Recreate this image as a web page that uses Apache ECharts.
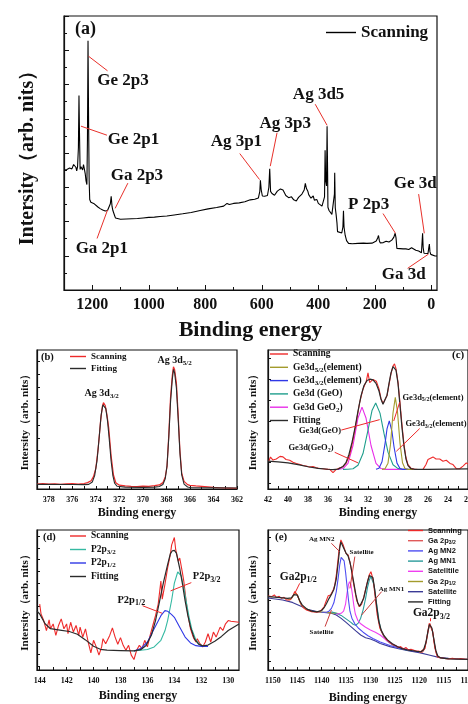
<!DOCTYPE html>
<html>
<head>
<meta charset="utf-8">
<script src="https://cdn.jsdelivr.net/npm/echarts@6/dist/echarts.min.js"></script>
<style>
  html, body { margin: 0; padding: 0; background: #fff; }
  #chart { width: 468px; height: 704px; }
</style>
</head>
<body>
<div id="chart"></div>
<script>
// ---- (a) survey spectrum ----
const surveyScan = [
  [1300,43.7],[1290,44.0],[1280,44.5],[1272,44.2],[1266,45.8],[1262,46.2],[1258,44.8],[1255,43.5],[1252,45.0],
  [1249,52.0],[1247,71.0],[1245,56.0],[1243,44.0],[1240,45.0],[1237,45.5],[1234,43.8],[1231,45.8],[1228,44.2],
  [1225,42.5],[1222,39.8],[1219,38.5],[1217,55.0],[1215,91.0],[1213,62.0],[1211,40.0],[1209,33.0],[1205,32.0],
  [1200,31.9],[1195,31.6],[1188,31.2],[1180,30.3],[1172,29.7],[1163,29.2],[1154,28.8],[1146,29.0],[1140,29.5],
  [1136,31.5],[1133,34.2],[1130,30.5],[1127,29.0],[1124,28.5],[1121,27.2],[1118,26.3],[1113,25.9],[1100,25.8],
  [1080,25.9],[1060,26.0],[1040,26.1],[1020,26.3],[1000,26.5],[980,26.6],[960,26.8],[936,27.0],[910,27.4],
  [880,27.8],[850,28.3],[818,29.0],[790,29.6],[760,30.1],[735,30.6],[723,31.6],[715,31.2],[700,31.6],[680,31.8],
  [660,32.2],[641,32.9],[625,33.1],[612,33.6],[607,36.0],[605,40.0],[602,36.5],[598,34.3],[594,35.0],[590,34.2],
  [580,34.5],[575,37.5],[572,44.2],[569,36.0],[564,35.2],[555,34.6],[545,36.1],[534,36.9],[525,36.5],[515,34.5],
  [505,33.7],[495,34.0],[487,32.9],[478,32.5],[470,33.8],[464,34.4],[458,35.0],[450,36.5],[446,38.9],[442,37.0],
  [437,36.0],[434,34.8],[430,35.5],[426,33.5],[422,33.1],[418,34.3],[414,32.8],[410,32.3],[405,33.0],[400,31.6],
  [393,31.1],[387,30.6],[381,31.0],[378,34.0],[376,51.0],[374,40.0],[371,38.0],[369,59.8],[367,42.0],[366,30.2],
  [362,29.0],[358,28.4],[352,27.6],[346,27.8],[343,35.0],[342,42.8],[340,30.0],[337,27.5],[334,24.5],[332,21.3],
  [325,20.8],[317,20.8],[313,23.0],[311,28.9],[309,23.0],[305,20.0],[300,18.0],[293,17.0],[280,16.9],[260,17.0],
  [240,17.1],[228,17.0],[210,17.1],[195,17.9],[190,19.0],[187,19.9],[184,18.0],[181,17.2],[170,17.3],[160,17.8],
  [150,17.5],[140,18.2],[133,19.2],[130,18.6],[128,20.7],[125,19.0],[122,15.2],[115,15.1],[100,15.0],[90,15.0],
  [80,14.8],[70,15.4],[63,15.1],[55,14.5],[45,14.2],[40,13.9],[35,13.6],[33,14.0],[31,20.7],[29,15.5],[26,13.4],
  [20,13.3],[12,13.3],[9,15.5],[7,16.8],[5,14.0],[2,13.0],[-1,12.8],[-5,12.5],[-13,12.4],[-20,12.4]
];
// text, text x, text y, line x1, y1, x2, y2
const surveyNotes = [
  ['Ge 2p3', 1091, 76.5, 1213, 85.3, 1146, 80.0],
  ['Ge 2p1', 1054, 55.0, 1240, 59.8, 1148, 56.5],
  ['Ga 2p3', 1042, 41.7, 1074, 39.0, 1119, 29.8],
  ['Ga 2p1', 1166, 15.2, 1183, 18.8, 1146, 29.2],
  ['Ag 3p1', 690, 54.0, 678, 49.8, 608, 40.3],
  ['Ag 3p3', 517, 60.8, 546, 57.4, 570, 45.2],
  ['Ag 3d5', 399, 71.3, 411, 67.8, 369, 60.1],
  ['P 2p3', 222, 31.3, 171, 27.9, 127, 20.7],
  ['Ge 3d', 57, 38.9, 45, 35.0, 25, 20.7],
  ['Ga 3d', 98, 5.5, 84, 7.9, 10, 13.1]
];
const surveyLabels = [0, 200, 400, 600, 800, 1000, 1200];
const surveyMinor = [100, 300, 500, 700, 900, 1100];

// ---- (b) Ag 3d ----
const agScan = [
  [379,3.9],[378.5,4.2],[378,3.8],[377.5,4.1],[377,3.7],[376.5,4.0],[376,4.2],[375.5,3.9],[375,4.3],[374.7,5.0],
  [374.4,6.5],[374.2,9.7],[374,16.2],[373.8,31.9],[373.6,52.8],[373.45,64.5],[373.35,67.7],[373.2,65.5],
  [373.05,58.0],[372.9,47.6],[372.7,26.0],[372.5,11.0],[372.3,4.9],[372,3.0],[371.5,2.4],[371,2.0],[370.5,1.9],
  [370,2.2],[369.5,2.0],[369,2.6],[368.6,3.2],[368.3,5.0],[368.1,9.5],[367.95,17.5],[367.8,42.3],[367.65,72.0],
  [367.5,89.0],[367.4,95.9],[367.3,93.5],[367.15,83.0],[367,58.0],[366.85,30.0],[366.7,12.5],[366.5,6.0],
  [366.2,3.4],[366,2.9],[365.5,2.4],[365,2.0],[364.5,1.6],[364,1.2],[363.5,1.0],[363,0.8],[362.5,0.7],[362,0.6]
];
const agFit = [
  [379,3.6],[376,3.5],[375,3.4],[374.6,3.6],[374.3,5.5],[374.1,10.5],[373.9,22.0],[373.7,42.0],[373.55,58.0],
  [373.4,66.0],[373.3,67.0],[373.15,63.0],[373,53.0],[372.85,38.0],[372.7,22.0],[372.55,10.5],[372.4,4.5],
  [372.2,2.2],[371.5,1.5],[370,1.3],[369,1.5],[368.6,2.0],[368.3,3.5],[368.1,8.0],[367.95,18.0],[367.8,40.0],
  [367.65,68.0],[367.5,86.0],[367.4,93.8],[367.3,91.0],[367.15,79.0],[367,55.0],[366.85,28.0],[366.7,11.0],
  [366.5,3.8],[366.2,1.6],[366,1.2],[364,1.0],[362,0.8]
];
const agNotes = [['Ag 3d{s|3/2}', 373.5, 75], ['Ag 3d{s|5/2}', 367.3, 101]];
const agLabels = [362, 364, 366, 368, 370, 372, 374, 376, 378];
const agTicks = [362,363,364,365,366,367,368,369,370,371,372,373,374,375,376,377,378,379];
const agYTicks = [10, 20, 30, 40, 50, 60, 70, 80, 90, 100];

// ---- (c) Ge 3d ----
const geScan = [
  [41.93,20.0],[41.75,23.0],[41.5,20.8],[41.17,21.6],[40.8,23.5],[40.5,23.1],[40.2,21.2],[39.83,20.7],[39.5,19.3],
  [39.17,18.4],[38.8,17.6],[38.5,16.9],[38.2,16.5],[37.83,15.8],[37.5,16.2],[37.17,15.3],[36.8,14.8],[36.5,14.6],
  [36.1,14.1],[35.83,14.1],[35.5,11.8],[35.17,14.1],[34.8,15.3],[34.5,16.0],[34.17,18.8],[33.83,24.7],[33.5,35.3],
  [33.17,48.2],[32.83,62.4],[32.5,71.8],[32.17,77.6],[32.0,83.5],[31.83,76.5],[31.5,78.8],[31.17,77.6],[30.9,72.0],
  [30.7,65.0],[30.5,61.5],[30.3,62.5],[30.1,67.0],[29.9,75.0],[29.7,83.0],[29.5,88.5],[29.35,90.0],[29.2,86.5],
  [29.0,77.0],[28.8,62.0],[28.6,46.0],[28.4,32.0],[28.2,22.5],[28.0,17.5],[27.7,15.0],[27.4,14.3],[27.0,14.0],
  [26.8,13.6],[26.5,14.1],[26.2,17.6],[26.0,21.2],[25.8,20.0],[25.5,23.1],[25.2,21.6],[24.83,21.6],[24.5,20.0],
  [24.17,20.7],[23.8,18.4],[23.5,17.6],[23.17,14.6],[22.83,14.6],[22.5,16.5],[22.17,18.8],[22.0,18.0]
];
const geFit = [
  [42,20.0],[41,19.5],[40,18.8],[39,17.5],[38,16.0],[37,14.9],[36,14.2],[35.5,14.0],[35,14.3],[34.5,16.2],
  [34.2,19.0],[33.9,25.0],[33.6,33.5],[33.3,44.0],[33.0,56.0],[32.7,67.0],[32.4,74.5],[32.1,78.0],[31.8,79.0],
  [31.5,78.5],[31.2,76.0],[30.9,70.5],[30.7,64.5],[30.5,61.0],[30.3,62.0],[30.1,67.5],[29.9,76.0],[29.7,83.5],
  [29.5,88.0],[29.35,89.0],[29.2,85.5],[29.0,76.0],[28.8,60.0],[28.6,44.0],[28.4,30.5],[28.2,21.5],[28.0,16.8],
  [27.7,14.6],[27.3,14.1],[26,14.1],[24,14.3],[22,14.5]
];
const geElem52 = [
  [30.6,14.1],[30.3,14.5],[30.0,18.6],[29.75,32.1],[29.5,54.7],[29.27,65.9],[29.05,55.6],[28.8,32.9],
  [28.55,18.9],[28.3,14.8],[28.0,14.1],[27.5,14.1]
];
const geElem32 = [
  [31.2,14.2],[30.9,15.0],[30.6,19.6],[30.3,32.5],[30.1,43.2],[29.87,49.0],[29.6,41.2],[29.4,30.4],[29.1,18.6],
  [28.8,14.8],[28.5,14.1],[27.8,14.1]
];
const geGeO = [
  [34.5,14.1],[34.0,14.2],[33.5,14.6],[33.0,17.1],[32.5,25.5],[32.0,42.3],[31.6,56.4],[31.23,61.9],[30.8,54.6],
  [30.4,40.0],[30.0,26.5],[29.5,17.4],[29.0,14.7],[28.5,14.2],[28.0,14.1]
];
const geGeO2 = [
  [35.0,14.1],[34.5,14.7],[34.0,18.5],[33.5,31.3],[33.0,51.1],[32.6,58.9],[32.2,51.1],[31.7,31.3],[31.2,18.5],
  [30.7,14.7],[30.2,14.1],[29.0,14.1],[28.0,14.1]
];
const geNotes = [
  ['Ge3d{s|5/2}(element)', 25.5, 65.9, 28.83, 62.4, 29.43, 48.9],
  ['Ge3d{s|3/2}(element)', 25.2, 46.6, 26.83, 43.5, 29.17, 27.1],
  ['Ge3d(GeO)', 36.8, 41.6, 34.67, 42.4, 30.83, 49.9],
  ['Ge3d(GeO{s|2})', 37.7, 29.4, 35.33, 26.4, 33.0, 18.8]
];
const geLabels = [22, 24, 26, 28, 30, 32, 34, 36, 38, 40, 42];
const geTicks = [22,23,24,25,26,27,28,29,30,31,32,33,34,35,36,37,38,39,40,41,42];
const geYTicks = [4.2, 19.3, 34.1, 48.9, 64.2, 79.3, 94.1];

// ---- (d) P 2p ----
const pScan = [
  [144.0,47.1],[143.9,40.0],[143.7,35.3],[143.5,28.2],[143.3,35.8],[143.2,29.4],[143.0,32.9],[142.8,24.7],
  [142.6,31.8],[142.4,36.5],[142.2,29.4],[142.0,32.9],[141.9,25.9],[141.7,34.1],[141.5,27.1],[141.3,31.8],
  [141.1,24.7],[141.0,30.6],[140.8,23.5],[140.6,29.4],[140.4,20.0],[140.2,12.2],[140.0,21.2],[139.8,16.5],
  [139.6,10.6],[139.4,16.5],[139.3,22.4],[139.1,18.8],[138.8,24.7],[138.6,30.1],[138.4,23.5],[138.2,18.4],
  [138.0,23.1],[137.8,17.6],[137.6,14.1],[137.4,17.6],[137.2,10.6],[137.0,7.5],[136.8,14.1],[136.6,17.6],
  [136.4,15.3],[136.2,21.2],[136.0,16.5],[135.8,24.7],[135.6,31.8],[135.4,38.8],[135.2,47.1],[135.0,63.5],
  [134.9,50.6],[134.7,61.2],[134.6,67.1],[134.5,72.9],[134.3,82.4],[134.2,89.4],[134.0,94.6],[133.9,85.9],
  [133.7,77.6],[133.6,80.0],[133.4,69.4],[133.3,63.5],[133.1,47.1],[133.0,40.0],[132.8,29.4],[132.6,23.5],
  [132.4,20.0],[132.3,22.4],[132.1,18.8],[131.9,16.5],[131.7,20.0],[131.5,25.9],[131.3,20.0],[131.1,27.1],
  [130.9,23.5],[130.6,30.6],[130.4,28.2],[130.2,33.0],[130.0,35.3],[129.8,34.8],[129.2,34.1]
];
const pFit = [
  [144.2,42.0],[144,40.0],[143.6,33.0],[143.2,29.5],[142.5,28.5],[141.8,27.5],[141.2,25.5],[140.6,21.5],
  [140.0,17.0],[139.5,14.8],[139,14.2],[138,13.9],[137,13.6],[136.5,14.5],[136.1,17.5],[135.7,25.0],[135.4,35.3],
  [135.1,49.0],[134.8,63.0],[134.5,75.3],[134.3,83.0],[134.15,85.2],[134.0,85.5],[133.85,83.5],[133.6,72.5],
  [133.4,61.5],[133.2,49.4],[133.0,39.0],[132.8,30.6],[132.5,22.0],[132.2,18.5],[131.9,17.2],[131.5,17.8],
  [131.0,20.5],[130.5,24.0],[130.0,28.2],[129.2,32.9]
];
const p32 = [
  [137,13.6],[136,14.6],[135.5,16.5],[135.0,21.2],[134.7,28.0],[134.5,35.3],[134.2,50.0],[134.0,62.0],
  [133.75,70.0],[133.5,67.5],[133.3,59.0],[133.1,48.0],[132.9,37.5],[132.7,29.0],[132.4,21.5],[132.1,18.0],
  [131.8,17.0],[131.5,16.9]
];
const p12 = [
  [137,13.6],[136.5,15.3],[136.0,20.0],[135.5,29.4],[135.0,38.8],[134.7,42.4],[134.5,42.0],[134.2,39.5],
  [134.0,37.6],[133.6,30.6],[133.2,23.5],[132.8,19.3],[132.4,17.4],[132.0,16.9],[131.5,16.9]
];
const pNotes = [
  ['P2p{s|3/2}', 131.6, 66.6, 132.74, 62.4, 134.28, 56.5],
  ['P2p{s|1/2}', 137.2, 49.9, 136.36, 45.9, 134.9, 40.5]
];
const pLabels = [130, 132, 134, 136, 138, 140, 142, 144];
const pTicks = [130,131,132,133,134,135,136,137,138,139,140,141,142,143,144];
const pYTicks = [2.8, 11.3, 20.0, 28.2, 36.5, 45.2, 53.4, 61.9, 70.6, 78.8, 87.0, 95.3];

// ---- (e) Ga 2p / Ag MN ----
const gaScan = [
  [1150.96,52.9],[1150.27,52.4],[1149.7,53.6],[1149.25,51.7],[1148.7,52.6],[1148.22,51.2],[1147.7,51.9],
  [1147.2,50.0],[1146.8,50.7],[1146.51,50.0],[1146.1,51.7],[1145.83,53.6],[1145.5,56.0],[1145.35,55.5],
  [1145.0,53.6],[1144.8,51.7],[1144.12,46.4],[1143.6,44.0],[1143.1,42.9],[1142.07,41.7],[1141.05,41.2],
  [1140.5,41.7],[1140.02,42.9],[1139.5,45.2],[1139.13,48.8],[1138.65,53.1],[1138.18,53.6],[1137.63,57.1],
  [1137.3,60.7],[1136.95,69.0],[1136.47,84.5],[1136.06,92.9],[1135.58,89.3],[1135.03,83.3],[1134.55,82.1],
  [1134.07,75.0],[1133.53,63.1],[1132.84,50.0],[1132.3,45.2],[1131.82,46.9],[1131.34,52.4],[1130.79,60.7],
  [1130.25,67.9],[1129.9,70.2],[1129.43,64.3],[1129.08,53.6],[1128.61,39.3],[1128.06,29.8],[1127.38,25.0],
  [1126.8,22.1],[1126.35,20.7],[1125.8,19.0],[1125.32,17.9],[1124.8,17.4],[1124.3,16.0],[1123.8,16.7],
  [1123.27,15.0],[1122.7,16.0],[1122.25,14.3],[1121.7,14.8],[1121.22,14.3],[1120.7,13.6],[1120.2,13.6],
  [1119.7,13.1],[1119.31,12.6],[1118.83,15.5],[1118.35,25.0],[1117.94,33.3],[1117.6,34.0],[1117.26,27.4],
  [1116.78,15.5],[1116.3,9.5],[1115.8,8.8],[1115.41,8.3],[1114.5,8.1],[1114.05,7.9],[1113.2,8.3],
  [1112.34,7.9],[1111.5,8.1],[1110.5,7.6],[1110,7.6]
];
const gaFit = [
  [1151,52.4],[1149,51.9],[1147,51.2],[1146.2,51.5],[1145.7,53.8],[1145.35,55.0],[1145,53.5],[1144.5,49.5],
  [1144,46.5],[1143,43.5],[1142,42.0],[1141,41.5],[1140,42.5],[1139.5,44.5],[1139,47.5],[1138.5,51.0],
  [1138,54.0],[1137.5,57.5],[1137,65.0],[1136.6,77.0],[1136.3,87.0],[1136.06,91.5],[1135.8,90.5],[1135.4,86.5],
  [1135,83.5],[1134.6,81.5],[1134.2,77.0],[1133.8,70.0],[1133.4,62.0],[1133,54.0],[1132.6,48.0],[1132.2,45.5],
  [1131.8,46.5],[1131.4,51.0],[1131,57.0],[1130.6,63.0],[1130.2,67.5],[1129.9,68.8],[1129.5,66.0],[1129.1,57.0],
  [1128.7,45.0],[1128.3,35.0],[1127.8,28.5],[1127.2,24.5],[1126.5,21.5],[1125.5,18.8],[1124.5,16.8],
  [1123.5,15.3],[1122.5,14.4],[1121.5,13.8],[1120.5,13.3],[1119.6,13.0],[1119.1,14.5],[1118.6,20.0],
  [1118.2,28.0],[1117.9,32.5],[1117.7,33.3],[1117.4,30.0],[1117.0,22.0],[1116.6,14.0],[1116.2,10.0],
  [1115.6,8.6],[1114,8.0],[1112,7.8],[1110,7.6]
];
const gaBackground = [
  [1151,51.4],[1148,50.0],[1146,48.3],[1144,45.2],[1143,43.3],[1141,41.7],[1140,41.2],[1139,41.0],[1138,40.5],
  [1137,39.3],[1136,36.9],[1135,34.0],[1134,31.0],[1133,27.9],[1132,25.0],[1131,23.1],[1130,22.1],[1129,20.7],
  [1128,19.0],[1126,16.7],[1124,15.0],[1122,13.6],[1120,12.4],[1118,10.7],[1116,9.0],[1114,8.3],[1112,7.9],
  [1110,7.6]
];
const ga12 = [
  [1147,50.6],[1146.3,50.5],[1145.8,53.0],[1145.35,55.2],[1144.9,53.0],[1144.4,48.0],[1144,45.5],[1143,43.3],
  [1142,42.0],[1140,41.4],[1138,40.8],[1136.5,40.3]
];
const agMN2 = [
  [1140,41.2],[1139,41.3],[1138.5,42.0],[1138,44.0],[1137.5,48.0],[1137,56.0],[1136.6,66.0],[1136.3,75.0],
  [1136.0,80.5],[1135.7,81.7],[1135.4,78.0],[1135.1,70.0],[1134.8,60.0],[1134.5,50.0],[1134.2,42.0],[1133.8,37.0],
  [1133.2,33.0],[1132.5,30.0],[1131.5,27.0],[1130.5,24.5],[1129.5,22.5],[1128,20.0],[1126,17.5],[1124,15.5],
  [1122,14.0],[1120,12.8]
];
const gaSatTop = [
  [1137,39.8],[1136,40.5],[1135.5,42.0],[1135.1,47.0],[1134.8,55.0],[1134.5,61.0],[1134.3,63.0],[1134.0,61.0],
  [1133.7,54.0],[1133.4,46.0],[1133.1,40.0],[1132.6,35.5],[1132,33.0],[1131,30.5],[1130,28.5],[1129,27.0],
  [1128,25.0],[1127,22.0],[1126,19.5],[1125,17.5],[1124,16.0],[1122,14.3]
];
const agMN1 = [
  [1138,41.5],[1137,40.5],[1136,39.0],[1135,36.5],[1134,34.0],[1133.5,32.5],[1133,32.0],[1132.5,33.5],
  [1132,37.0],[1131.5,43.0],[1131,51.0],[1130.6,59.0],[1130.2,64.5],[1129.9,66.7],[1129.6,65.5],[1129.3,61.0],
  [1129,54.0],[1128.6,44.0],[1128.2,34.0],[1127.8,28.0],[1127.2,23.5],[1126.5,20.5],[1125.5,18.0],[1124,15.5],
  [1122,13.8]
];
const ga32 = [
  [1120,12.6],[1119.3,12.8],[1118.9,15.0],[1118.5,21.0],[1118.1,29.0],[1117.8,33.3],[1117.5,32.5],[1117.2,27.0],
  [1116.9,19.0],[1116.5,12.0],[1116.1,9.5],[1115.5,8.7]
];
const gaSmallNotes = [
  ['Ag MN2', 1140.0, 93.6, 1138.0, 90.5, 1136.3, 84.5],
  ['Satellite', 1131.8, 83.8, 1133.2, 81.0, 1134.2, 58.3],
  ['Ag MN1', 1125.7, 57.9, 1127.7, 56.0, 1131.8, 39.3],
  ['Satellite', 1140.0, 26.9, 1139.3, 31.0, 1138.0, 42.9]
];
const gaBigNotes = [
  ['Ga2p{s|1/2}', 1144.8, 66.7, 1144.5, 61.9, 1145.4, 55.5],
  ['Ga2p{s|3/2}', 1117.5, 40.5, 1117.7, 37.0, 1117.7, 34.8]
];
const gaLabels = [1110, 1115, 1120, 1125, 1130, 1135, 1140, 1145, 1150];
const gaTicks = [1110,1112.5,1115,1117.5,1120,1122.5,1125,1127.5,1130,1132.5,1135,1137.5,1140,1142.5,1145,1147.5,1150];
const gaYTicks = [6.0, 14.8, 23.8, 32.1, 41.0, 50.0, 58.3, 67.1, 76.2, 85.7, 94.5];

// ---- styling ----
const SERIF = '"Liberation Serif","Times New Roman",serif';
const SANS = '"Liberation Sans",Arial,sans-serif';
const INK = '#111';
const RED = '#ee2a2a';
const YNAME = 'Intersity（arb. nits）';

const C = {
  olive: '#a39b2c', blue: '#3038e6', teal: '#1f9e8c', magenta: '#e82ee8', fit: '#2b2b2b',
  pTeal: '#35b9a2', salmon: '#e05a5a', mn2: '#4d4df2', mn1: '#2a9a9a', sat: '#f03ff0', sat2: '#3b3b96'
};

function rich(fs, family) {
  return { s: { fontFamily: family || SERIF, fontWeight: 'bold', fontSize: Math.round(fs * 0.72),
    lineHeight: Math.round(fs * 0.72), verticalAlign: 'bottom', color: INK } };
}

function bottomAxis(gi, min, max, labels, ticks, fs, nameFs, nameGap, tickLen, namePad) {
  return {
    type: 'value', gridIndex: gi, position: 'bottom', inverse: true, min: min, max: max,
    axisLine: { show: true, onZero: false, lineStyle: { color: INK, width: 1.2 } },
    axisTick: { show: true, inside: true, length: tickLen, customValues: ticks, lineStyle: { color: INK, width: 1 } },
    axisLabel: { show: true, customValues: labels, margin: 7, color: INK, fontFamily: SERIF, fontWeight: 'bold',
      fontSize: fs, formatter: v => String(v) },
    splitLine: { show: false },
    name: 'Binding energy', nameLocation: 'middle', nameGap: nameGap, nameMoveOverlap: false,
    nameTextStyle: { color: INK, fontFamily: SERIF, fontWeight: 'bold', fontSize: nameFs, padding: namePad || 0 }
  };
}

function leftAxis(gi, max, ticks, nameFs, nameGap) {
  return {
    type: 'value', gridIndex: gi, position: 'left', min: 0, max: max,
    axisLine: { show: true, onZero: false, lineStyle: { color: INK, width: 1.2 } },
    axisTick: { show: true, inside: true, length: 3, customValues: ticks, lineStyle: { color: INK, width: 1 } },
    axisLabel: { show: false },
    splitLine: { show: false },
    name: YNAME, nameLocation: 'middle', nameGap: nameGap, nameMoveOverlap: false,
    nameTextStyle: { color: INK, fontFamily: SERIF, fontWeight: 'bold', fontSize: nameFs }
  };
}

function curve(name, data, color, xi, yi, width) {
  return {
    type: 'line', name: name, data: data, xAxisIndex: xi, yAxisIndex: yi,
    symbol: 'none', showSymbol: false, smooth: false, animation: false, silent: true,
    lineStyle: { color: color, width: width || 1.1 }, itemStyle: { color: color }, z: 3
  };
}

function noteText(list, xi, yi, fs, family) {
  return {
    type: 'scatter', xAxisIndex: xi, yAxisIndex: yi, symbolSize: 0, silent: true, animation: false, z: 6,
    itemStyle: { color: INK, opacity: 1 },
    label: { show: true, position: 'inside', color: INK, textBorderWidth: 0, textBorderColor: 'transparent',
      fontFamily: family || SERIF, fontWeight: 'bold', fontSize: fs, lineHeight: Math.round(fs * 1.3),
      rich: rich(fs, family) },
    data: list.map(n => ({ value: [n[1], n[2]], label: { formatter: n[0] } }))
  };
}

function noteLines(list, xi, yi, color) {
  return {
    type: 'lines', coordinateSystem: 'cartesian2d', xAxisIndex: xi, yAxisIndex: yi,
    silent: true, animation: false, z: 5,
    lineStyle: { color: color || RED, width: 1, opacity: 1, curveness: 0 },
    data: list.filter(n => n.length > 3).map(n => ({ coords: [[n[3], n[4]], [n[5], n[6]]] }))
  };
}

function leg(name, color) {
  return { name: name, icon: 'rect', itemStyle: { color: color, borderWidth: 0 } };
}

function legend(items, left, top, fs, gap, itemWidth, family, names) {
  const lh = Math.round(fs * 1.25);
  return {
    orient: 'vertical', left: left, top: top, padding: 0, itemGap: gap,
    itemWidth: itemWidth, itemHeight: 1.4, selectedMode: false, icon: 'rect',
    data: items,
    formatter: n => (names && names[n]) || n,
    textStyle: { color: INK, fontFamily: family || SERIF, fontWeight: 'bold', fontSize: fs, lineHeight: lh,
      rich: rich(fs, family) }
  };
}

const gridBase = { show: true, borderColor: INK, borderWidth: 1.2, backgroundColor: 'transparent',
  containLabel: false, outerBoundsMode: 'none' };

const option = {
  backgroundColor: '#fff',
  animation: false,
  grid: [
    Object.assign({ left: 64, top: 16, width: 373, height: 274 }, gridBase),
    Object.assign({ left: 37, top: 350, width: 200, height: 139 }, gridBase),
    Object.assign({ left: 268, top: 350, width: 200, height: 139 }, gridBase),
    Object.assign({ left: 37, top: 530, width: 202, height: 140 }, gridBase),
    Object.assign({ left: 268, top: 530, width: 200, height: 140 }, gridBase)
  ],
  title: [
    { text: '(a)', left: 75, top: 20, padding: 0, textStyle: { fontFamily: SERIF, fontWeight: 'bold', fontSize: 18, color: INK } },
    { text: '(b)', left: 41, top: 352, padding: 0, textStyle: { fontFamily: SERIF, fontWeight: 'bold', fontSize: 10.5, color: INK } },
    { text: '(c)', left: 452, top: 350, padding: 0, textStyle: { fontFamily: SERIF, fontWeight: 'bold', fontSize: 11, color: INK } },
    { text: '(d)', left: 43, top: 532, padding: 0, textStyle: { fontFamily: SERIF, fontWeight: 'bold', fontSize: 10.5, color: INK } },
    { text: '(e)', left: 275, top: 532, padding: 0, textStyle: { fontFamily: SERIF, fontWeight: 'bold', fontSize: 11, color: INK } }
  ],
  legend: [
    legend([leg('Scanning', '#000')], 326, 22, 17, 0, 30),
    legend([leg('Scanning', RED), leg('Fitting', C.fit)], 70, 351, 9, 1, 16),
    legend([leg('Scanning', RED), leg('Ge3d5/2(element)', C.olive), leg('Ge3d3/2(element)', C.blue),
      leg('Ge3d (GeO)', C.teal), leg('Ge3d GeO2)', C.magenta), leg('Fitting', C.fit)], 270, 348, 9.5, 1.3, 18, SERIF,
      { 'Ge3d5/2(element)': 'Ge3d{s|5/2}(element)', 'Ge3d3/2(element)': 'Ge3d{s|3/2}(element)', 'Ge3d GeO2)': 'Ge3d GeO{s|2})' }),
    legend([leg('Scanning', RED), leg('P2p3/2', C.pTeal), leg('P2p1/2', C.blue), leg('Fitting', C.fit)], 70, 530, 9.5, 1.5, 16, SERIF,
      { 'P2p3/2': 'P2p{s|3/2}', 'P2p1/2': 'P2p{s|1/2}' }),
    legend([leg('Scanning', RED), leg('Ga 2p3/2', C.salmon), leg('Ag MN2', C.mn2), leg('Ag MN1', C.mn1),
      leg('Satelltile', C.sat), leg('Ga 2p1/2', C.olive), leg('Satellite', C.sat2), leg('Fitting', C.fit)],
      408, 526, 7.5, 1.2, 15, SANS, { 'Ga 2p3/2': 'Ga 2p{s|3/2}', 'Ga 2p1/2': 'Ga 2p{s|1/2}' })
  ],
  xAxis: [
    bottomAxis(0, -20, 1300, surveyLabels, surveyLabels, 16, 22, 29, 5),
    {
      type: 'value', gridIndex: 0, position: 'bottom', inverse: true, min: -20, max: 1300,
      axisLine: { show: false }, axisLabel: { show: false }, splitLine: { show: false },
      axisTick: { show: true, inside: true, length: 3, customValues: surveyMinor, lineStyle: { color: INK, width: 1 } }
    },
    bottomAxis(1, 362, 379, agLabels, agTicks, 8, 12, 18, 3),
    bottomAxis(2, 22, 42, geLabels, geTicks, 8, 12, 18, 3, [0, 0, 0, 20]),
    bottomAxis(3, 129.2, 144.2, pLabels, pTicks, 8, 12, 20, 3),
    bottomAxis(4, 1110, 1151, gaLabels, gaTicks, 8, 12, 22, 3)
  ],
  yAxis: [
    {
      type: 'value', gridIndex: 0, position: 'left', min: 0, max: 100, interval: 12.5,
      axisLine: { show: true, onZero: false, lineStyle: { color: INK, width: 1.2 } },
      axisTick: { show: true, inside: true, length: 5, lineStyle: { color: INK, width: 1 } },
      minorTick: { show: true, splitNumber: 2, length: 3, lineStyle: { color: INK, width: 1 } },
      axisLabel: { show: false }, splitLine: { show: false }, minorSplitLine: { show: false },
      name: YNAME, nameLocation: 'middle', nameGap: 26, nameMoveOverlap: false,
      nameTextStyle: { color: INK, fontFamily: SERIF, fontWeight: 'bold', fontSize: 20 }
    },
    leftAxis(1, 109, agYTicks, 11, 6.5),
    leftAxis(2, 100, geYTicks, 11, 9.5),
    leftAxis(3, 100, pYTicks, 11, 6.5),
    leftAxis(4, 100, gaYTicks, 11, 9.5)
  ],
  series: [
    // (a)
    curve('Scanning', surveyScan, '#000', 0, 0, 1.1),
    noteLines(surveyNotes, 0, 0, '#e8302a'),
    noteText(surveyNotes, 0, 0, 17),
    // (b)
    curve('Scanning', agScan, RED, 2, 1, 1.2),
    curve('Fitting', agFit, C.fit, 2, 1, 1.1),
    noteText(agNotes, 2, 1, 10),
    // (c)
    curve('Ge3d GeO2)', geGeO2, C.magenta, 3, 2, 1.1),
    curve('Ge3d (GeO)', geGeO, C.teal, 3, 2, 1.1),
    curve('Ge3d3/2(element)', geElem32, C.blue, 3, 2, 1.1),
    curve('Ge3d5/2(element)', geElem52, C.olive, 3, 2, 1.1),
    curve('Scanning', geScan, RED, 3, 2, 1.1),
    curve('Fitting', geFit, C.fit, 3, 2, 1.2),
    noteLines(geNotes, 3, 2, RED),
    noteText(geNotes, 3, 2, 8.5),
    // (d)
    curve('Scanning', pScan, RED, 4, 3, 1.1),
    curve('P2p3/2', p32, C.pTeal, 4, 3, 1.1),
    curve('P2p1/2', p12, C.blue, 4, 3, 1.1),
    curve('Fitting', pFit, C.fit, 4, 3, 1.2),
    noteLines(pNotes, 4, 3, RED),
    noteText(pNotes, 4, 3, 10.5),
    // (e)
    curve('Satellite', gaBackground, C.sat2, 5, 4, 1.1),
    curve('Ga 2p1/2', ga12, C.olive, 5, 4, 1.1),
    curve('Ag MN1', agMN1, C.mn1, 5, 4, 1.1),
    curve('Satelltile', gaSatTop, C.sat, 5, 4, 1.1),
    curve('Ag MN2', agMN2, C.mn2, 5, 4, 1.1),
    curve('Ga 2p3/2', ga32, C.salmon, 5, 4, 1.1),
    curve('Scanning', gaScan, RED, 5, 4, 1.1),
    curve('Fitting', gaFit, C.fit, 5, 4, 1.2),
    noteLines(gaSmallNotes, 5, 4, '#c83a3a'),
    noteLines(gaBigNotes, 5, 4, RED),
    noteText(gaSmallNotes, 5, 4, 7),
    noteText(gaBigNotes, 5, 4, 11.5)
  ]
};

const chart = echarts.init(document.getElementById('chart'), null, { renderer: 'canvas' });
chart.setOption(option);
</script>
</body>
</html>
